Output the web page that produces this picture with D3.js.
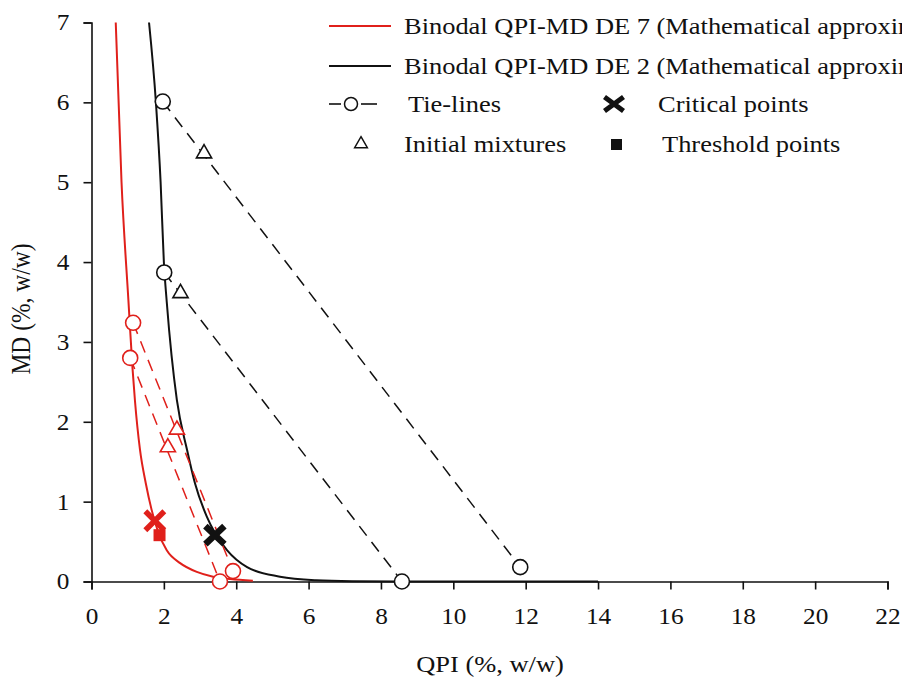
<!DOCTYPE html>
<html>
<head>
<meta charset="utf-8">
<script src="https://cdn.jsdelivr.net/npm/d3@7"></script>
<style>
  body { margin: 0; background: #fff; }
  svg text { font-family: "Liberation Serif", "Times New Roman", serif; fill: #111; }
</style>
</head>
<body>
<div id="chart"></div>
<script>
// Binodal curves
const de7QPI = [0.67, 0.83, 1.02, 1.13, 1.20, 1.34, 1.50, 1.66, 1.85, 2.08, 2.45, 2.91, 3.36, 3.83, 4.46];
const de7MD  = [7.00, 5.00, 3.52, 2.69, 2.27, 1.65, 1.23, 0.90, 0.61, 0.39, 0.23, 0.12, 0.06, 0.03, 0.01];
const de2QPI = [1.59, 1.78, 1.91, 2.00, 2.08, 2.36, 2.64, 2.86, 3.19, 3.41, 3.75, 4.30, 5.21, 6.20, 7.20, 8.50, 14.0];
const de2MD  = [7.00, 6.00, 5.00, 4.00, 3.50, 2.27, 1.65, 1.23, 0.81, 0.61, 0.39, 0.18, 0.06, 0.015, 0.003, 0.0, 0.0];

// Tie-lines: [topQPI, topMD, bottomQPI, bottomMD]
const tieDE2 = [[1.97, 6.01, 11.85, 0.18], [2.01, 3.87, 8.58, 0.0]];
const tieDE7 = [[1.15, 3.24, 3.91, 0.13], [1.07, 2.80, 3.55, 0.0]];
// Initial mixtures [QPI, MD]
const mixDE2 = [[3.11, 5.36], [2.46, 3.61]];
const mixDE7 = [[2.36, 1.90], [2.11, 1.68]];
// Critical points and threshold point
const critDE7 = [1.75, 0.76];
const critDE2 = [3.41, 0.58];
const threshDE7 = [1.88, 0.58];

const xTicks = d3.range(0, 23, 2);
const yTicks = d3.range(0, 8, 1);

const red = "#e0201b", black = "#111";
const W = 902, H = 680;
const K = 1.15; // text in the picture is a bit wider than tall

const svg = d3.select("#chart").append("svg").attr("width", W).attr("height", H);

const x = d3.scaleLinear().domain([0, 22]).range([91.5, 887.5]);
const y = d3.scaleLinear().domain([0, 7]).range([581.5, 22.5]);

// move x/y into a transform so the text can be widened
function widen(sel, k) {
  sel.each(function() {
    const t = d3.select(this);
    const tx = +t.attr("x") || 0, ty = +t.attr("y") || 0;
    t.attr("x", 0).attr("y", 0).attr("transform", `translate(${tx},${ty}) scale(${k},1)`);
  });
}

// axes
const xAxis = svg.append("g").attr("transform", `translate(0,${y(0)})`)
  .call(d3.axisBottom(x).tickValues(xTicks).tickSize(8).tickPadding(18));
const yAxis = svg.append("g").attr("transform", `translate(${x(0)},0)`)
  .call(d3.axisLeft(y).tickValues(yTicks).tickFormat(d3.format("d")).tickSize(8).tickPadding(14));
[xAxis, yAxis].forEach(g => {
  g.select(".domain").attr("stroke", black).attr("stroke-width", 1.6);
  g.selectAll(".tick line").attr("stroke", black).attr("stroke-width", 1.6);
  g.selectAll(".tick text").attr("font-size", 23)
    .style("font-family", "'Liberation Serif', serif").attr("fill", "#111")
    .call(widen, 1.1);
});

svg.append("text").attr("x", 490).attr("y", 672).attr("text-anchor", "middle")
  .attr("font-size", 23).text("QPI (%, w/w)").call(widen, K);
svg.append("text").attr("transform", `translate(30,309) rotate(-90) scale(1,${K})`).attr("text-anchor", "middle")
  .attr("font-size", 23.5).text("MD (%, w/w)");

// binodal curves
const line = d3.line().x(d => x(d[0])).y(d => y(d[1])).curve(d3.curveMonotoneX);
svg.append("path").datum(d3.zip(de2QPI, de2MD)).attr("d", line)
  .attr("fill", "none").attr("stroke", black).attr("stroke-width", 2);
svg.append("path").datum(d3.zip(de7QPI, de7MD)).attr("d", line)
  .attr("fill", "none").attr("stroke", red).attr("stroke-width", 2);

// tie-lines
function drawTies(ties, mixes, color) {
  svg.selectAll(null).data(ties).enter().append("line")
    .attr("x1", d => x(d[0])).attr("y1", d => y(d[1]))
    .attr("x2", d => x(d[2])).attr("y2", d => y(d[3]))
    .attr("stroke", color).attr("stroke-width", 1.5).attr("stroke-dasharray", "12,8");
  const ends = ties.flatMap(d => [[d[0], d[1]], [d[2], d[3]]]);
  svg.selectAll(null).data(ends).enter().append("circle")
    .attr("cx", d => x(d[0])).attr("cy", d => y(d[1])).attr("r", 7.5)
    .attr("fill", "#fff").attr("stroke", color).attr("stroke-width", 1.6);
  svg.selectAll(null).data(mixes).enter().append("path")
    .attr("transform", d => `translate(${x(d[0])},${y(d[1])})`)
    .attr("d", d3.symbol(d3.symbolTriangle, 100))
    .attr("fill", "#fff").attr("stroke", color).attr("stroke-width", 1.6);
}
drawTies(tieDE2, mixDE2, black);
drawTies(tieDE7, mixDE7, red);

function cross(px, py, color, sx, sy, w) {
  svg.append("path")
    .attr("d", `M${px - sx},${py - sy}L${px + sx},${py + sy}M${px - sx},${py + sy}L${px + sx},${py - sy}`)
    .attr("stroke", color).attr("stroke-width", w);
}
cross(x(critDE7[0]), y(critDE7[1]), red, 9.5, 9.5, 5.5);
cross(x(critDE2[0]), y(critDE2[1]), black, 9.5, 9, 6.5);
svg.append("rect").attr("x", x(threshDE7[0]) - 6).attr("y", y(threshDE7[1]) - 6)
  .attr("width", 12).attr("height", 12).attr("fill", red);

// legend
const lg = svg.append("g");
lg.append("line").attr("x1", 329).attr("x2", 391).attr("y1", 26).attr("y2", 26).attr("stroke", red).attr("stroke-width", 2);
lg.append("line").attr("x1", 329).attr("x2", 391).attr("y1", 66).attr("y2", 66).attr("stroke", black).attr("stroke-width", 2);
lg.append("text").attr("x", 404).attr("y", 34).attr("font-size", 23).text("Binodal QPI-MD DE 7 (Mathematical approximation)").call(widen, K);
lg.append("text").attr("x", 404).attr("y", 74).attr("font-size", 23).text("Binodal QPI-MD DE 2 (Mathematical approximation)").call(widen, K);
lg.append("line").attr("x1", 329).attr("x2", 341).attr("y1", 104).attr("y2", 104).attr("stroke", black).attr("stroke-width", 1.6);
lg.append("line").attr("x1", 361).attr("x2", 377).attr("y1", 104).attr("y2", 104).attr("stroke", black).attr("stroke-width", 1.6);
lg.append("circle").attr("cx", 351).attr("cy", 104).attr("r", 6.5).attr("fill", "#fff").attr("stroke", black).attr("stroke-width", 1.5);
lg.append("text").attr("x", 408).attr("y", 112).attr("font-size", 23).text("Tie-lines").call(widen, K);
lg.append("path").attr("transform", "translate(361,144)").attr("d", d3.symbol(d3.symbolTriangle, 70))
  .attr("fill", "#fff").attr("stroke", black).attr("stroke-width", 1.5);
lg.append("text").attr("x", 404).attr("y", 152).attr("font-size", 23).text("Initial mixtures").call(widen, K);
cross(614, 104, black, 9.5, 7, 5);
lg.append("rect").attr("x", 611).attr("y", 139).attr("width", 11).attr("height", 11).attr("fill", black);
lg.append("text").attr("x", 658).attr("y", 112).attr("font-size", 23).text("Critical points").call(widen, K);
lg.append("text").attr("x", 662).attr("y", 152).attr("font-size", 23).text("Threshold points").call(widen, K);
</script>
</body>
</html>
